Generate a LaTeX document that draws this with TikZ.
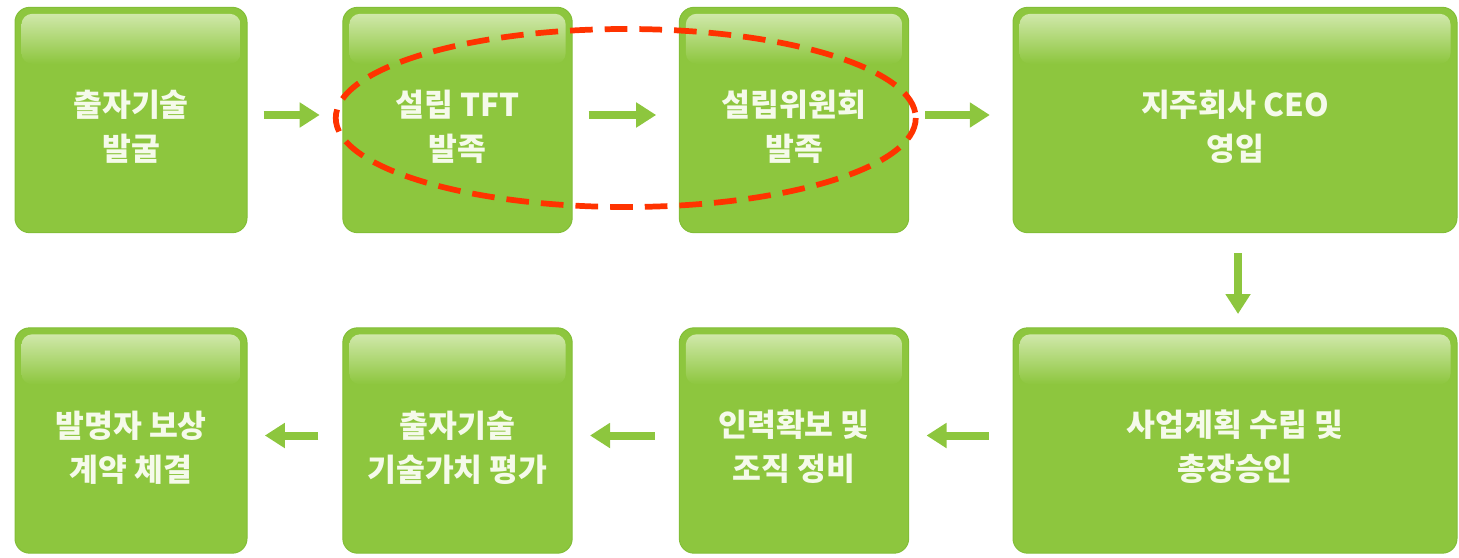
\documentclass[tikz,border=0pt]{standalone}
\usepackage{fontspec}
\newfontfamily\kfont{Noto Sans CJK KR}
\usetikzlibrary{arrows.meta,calc}
\definecolor{boxgreen}{RGB}{141,198,62}
\definecolor{boxedge}{RGB}{130,190,55}
\definecolor{bandtop}{RGB}{208,232,170}
\definecolor{boxtext}{RGB}{245,250,234}
\definecolor{markred}{RGB}{255,51,0}
\newcommand\lift{\rule{0pt}{30pt}}
\begin{document}
\begin{tikzpicture}[x=0.75pt,y=0.75pt,yscale=-1,xscale=1,
  stepbox/.style={draw=boxedge,line width=0.75,fill=boxgreen,rounded corners=11pt,minimum height=169pt,inner sep=0pt,text=boxtext,align=center,font=\kfont\bfseries\fontsize{23.5}{33}\selectfont},
  flow/.style={draw=boxgreen,line width=6pt,-{Triangle[length=15pt,width=18pt]},shorten <=12pt,shorten >=17pt}]
\useasboundingbox (0,0) rectangle (1459,557);

% Step Boxes, top row
\node [stepbox,minimum width=174pt] (disc) at (131,120) {\lift 출자기술\\발굴};
\node [stepbox,minimum width=172pt] (tft) at (457.5,120) {\lift 설립 TFT\\발족};
\node [stepbox,minimum width=172pt] (comm) at (794,120) {\lift 설립위원회\\발족};
\node [stepbox,minimum width=333pt] (ceo) at (1235,120) {\lift 지주회사 CEO\\영입};
% Step Boxes, bottom row
\node [stepbox,minimum width=333pt] (plan) at (1235,440.5) {\lift 사업계획 수립 및\\총장승인};
\node [stepbox,minimum width=172pt] (staff) at (794,440.5) {\lift 인력확보 및\\조직 정비};
\node [stepbox,minimum width=172pt] (value) at (457.5,440.5) {\lift 출자기술\\기술가치 평가};
\node [stepbox,minimum width=174pt] (reward) at (131,440.5) {\lift 발명자 보상\\계약 체결};

% Glossy bands
\foreach \b in {disc,tft,comm,ceo,plan,staff,value,reward}
  \shade [top color=bandtop,bottom color=boxgreen,rounded corners=8pt] ($(\b.north west)+(7,7)$) rectangle ($(\b.north east)+(-7,57)$);

% Arrows
\draw [flow] ($(disc.east)+(0,-5)$) -- ($(tft.west)+(0,-5)$);
\draw [flow] ($(tft.east)+(0,-5)$) -- ($(comm.west)+(0,-5)$);
\draw [flow] ($(comm.east)+(0,-5)$) -- ($(ceo.west)+(0,-5)$);
\draw [flow,shorten <=15pt,shorten >=10pt] ($(ceo.south)+(3,0)$) -- ($(plan.north)+(3,0)$);
\draw [flow,shorten <=18pt,shorten >=13pt] ($(plan.west)+(0,-5)$) -- ($(staff.east)+(0,-5)$);
\draw [flow,shorten <=18pt,shorten >=13pt] ($(staff.west)+(0,-5)$) -- ($(value.east)+(0,-5)$);
\draw [flow,shorten <=18pt,shorten >=13pt] ($(value.west)+(0,-5)$) -- ($(reward.east)+(0,-5)$);

% Dashed mark round the TFT and committee steps
\draw [markred,line width=4.3pt,dash pattern=on 17pt off 9pt] ($(tft)!0.5!(comm)+(0,-2)$) ellipse [x radius=290,y radius=89];
\end{tikzpicture}
\end{document}
